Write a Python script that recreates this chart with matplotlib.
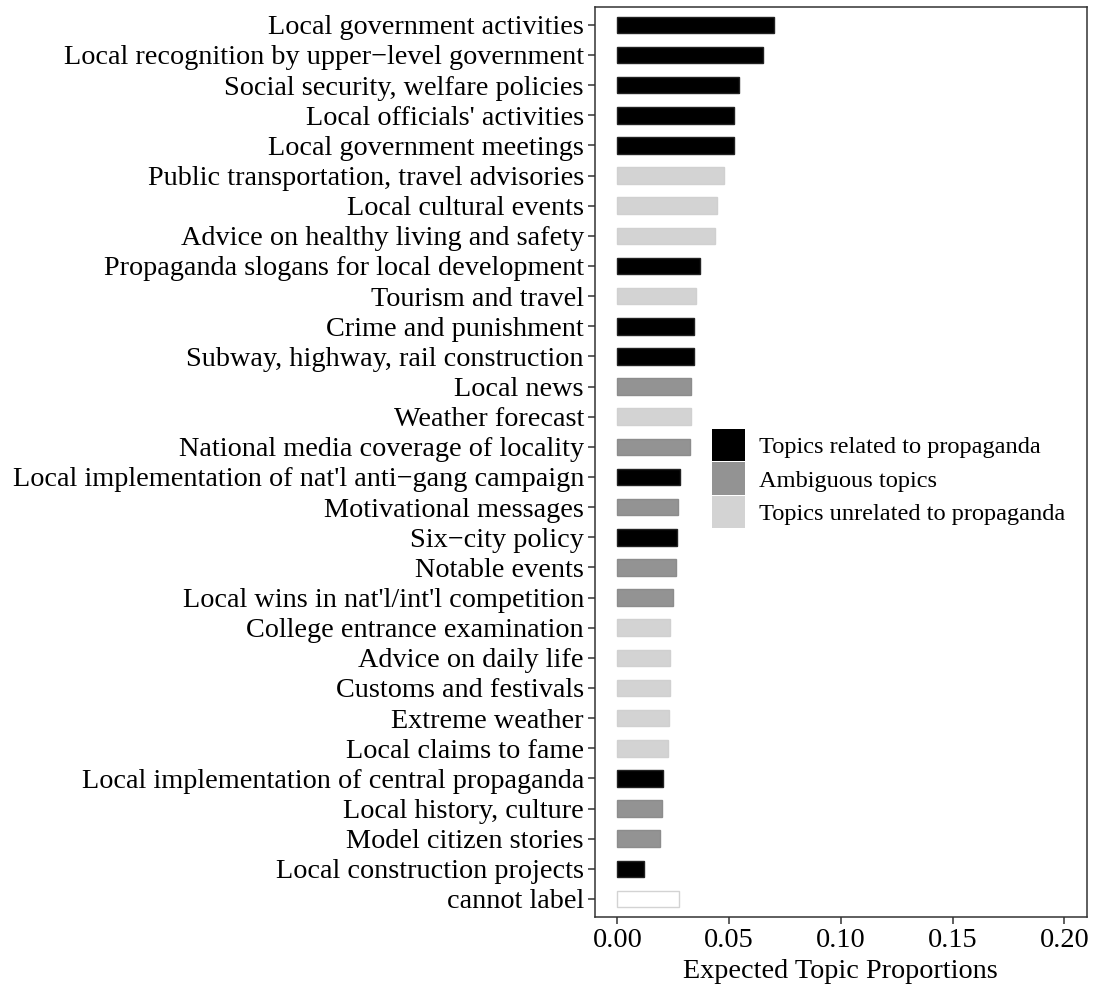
import matplotlib
matplotlib.use("Agg")
import matplotlib.pyplot as plt
from matplotlib.patches import Patch

plt.rcParams['font.family'] = ['Liberation Serif', 'DejaVu Serif']

# top to bottom, as in the picture
topics = [
    "Local government activities",
    "Local recognition by upper\u2212level government",
    "Social security, welfare policies",
    "Local officials' activities",
    "Local government meetings",
    "Public transportation, travel advisories",
    "Local cultural events",
    "Advice on healthy living and safety",
    "Propaganda slogans for local development",
    "Tourism and travel",
    "Crime and punishment",
    "Subway, highway, rail construction",
    "Local news",
    "Weather forecast",
    "National media coverage of locality",
    "Local implementation of nat'l anti\u2212gang campaign",
    "Motivational messages",
    "Six\u2212city policy",
    "Notable events",
    "Local wins in nat'l/int'l competition",
    "College entrance examination",
    "Advice on daily life",
    "Customs and festivals",
    "Extreme weather",
    "Local claims to fame",
    "Local implementation of central propaganda",
    "Local history, culture",
    "Model citizen stories",
    "Local construction projects",
    "cannot label",
]
proportions = [
    0.0703, 0.0650, 0.0543, 0.0521, 0.0521, 0.0475, 0.0444, 0.0438,
    0.0368, 0.0352, 0.0343, 0.0343, 0.0331, 0.0330, 0.0324, 0.0282,
    0.0270, 0.0269, 0.0263, 0.0249, 0.0236, 0.0236, 0.0235, 0.0230,
    0.0227, 0.0203, 0.0199, 0.0190, 0.0119, 0.0275,
]
# P = related to propaganda, A = ambiguous, U = unrelated, N = cannot label
kind = [
    "P", "P", "P", "P", "P", "U", "U", "U", "P", "U", "P", "P", "A", "U", "A",
    "P", "A", "P", "A", "A", "U", "U", "U", "U", "U", "P", "A", "A", "P", "N",
]

fills = {"P": "black", "A": "#939393", "U": "#d3d3d3", "N": "white"}
edges = {"P": "#222222", "A": "#8c8c8c", "U": "#d0d0d0", "N": "#d3d3d3"}

fig = plt.figure(figsize=(10.94, 9.9), dpi=100)
ax = fig.add_axes([0.5439, 0.0737, 0.4494, 0.9195])

n = len(topics)
ypos = list(range(n - 1, -1, -1))
ax.barh(ypos, proportions, height=0.55,
        color=[fills[k] for k in kind],
        edgecolor=[edges[k] for k in kind], linewidth=1.0)

ax.set_ylim(-0.6, n - 0.4)
ax.set_xlim(-0.01, 0.21)
ax.set_yticks(ypos)
ax.set_yticklabels(topics)
ax.set_xticks([0, 0.05, 0.10, 0.15, 0.20])
ax.set_xticklabels(["0.00", "0.05", "0.10", "0.15", "0.20"])
ax.tick_params(axis="both", labelsize=20.3, colors="#333333", labelcolor="black",
               length=5, width=1.1, pad=3)
for s in ax.spines.values():
    s.set_color("#333333")
    s.set_linewidth(1.1)
ax.set_xlabel("Expected Topic Proportions", fontsize=20.3, labelpad=4)

handles = [
    Patch(facecolor="black", edgecolor="none"),
    Patch(facecolor="#939393", edgecolor="none"),
    Patch(facecolor="#d3d3d3", edgecolor="none"),
]
labels = ["Topics related to propaganda", "Ambiguous topics",
          "Topics unrelated to propaganda"]
fig.legend(handles, labels, loc="upper left",
           bbox_to_anchor=(712 / 1094, 1 - 429 / 990),
           frameon=False, fontsize=17.6, borderpad=0, borderaxespad=0,
           handlelength=1.35, handleheight=1.65, labelspacing=0.05,
           handletextpad=0.57)

fig.savefig("out.png", dpi=100)
